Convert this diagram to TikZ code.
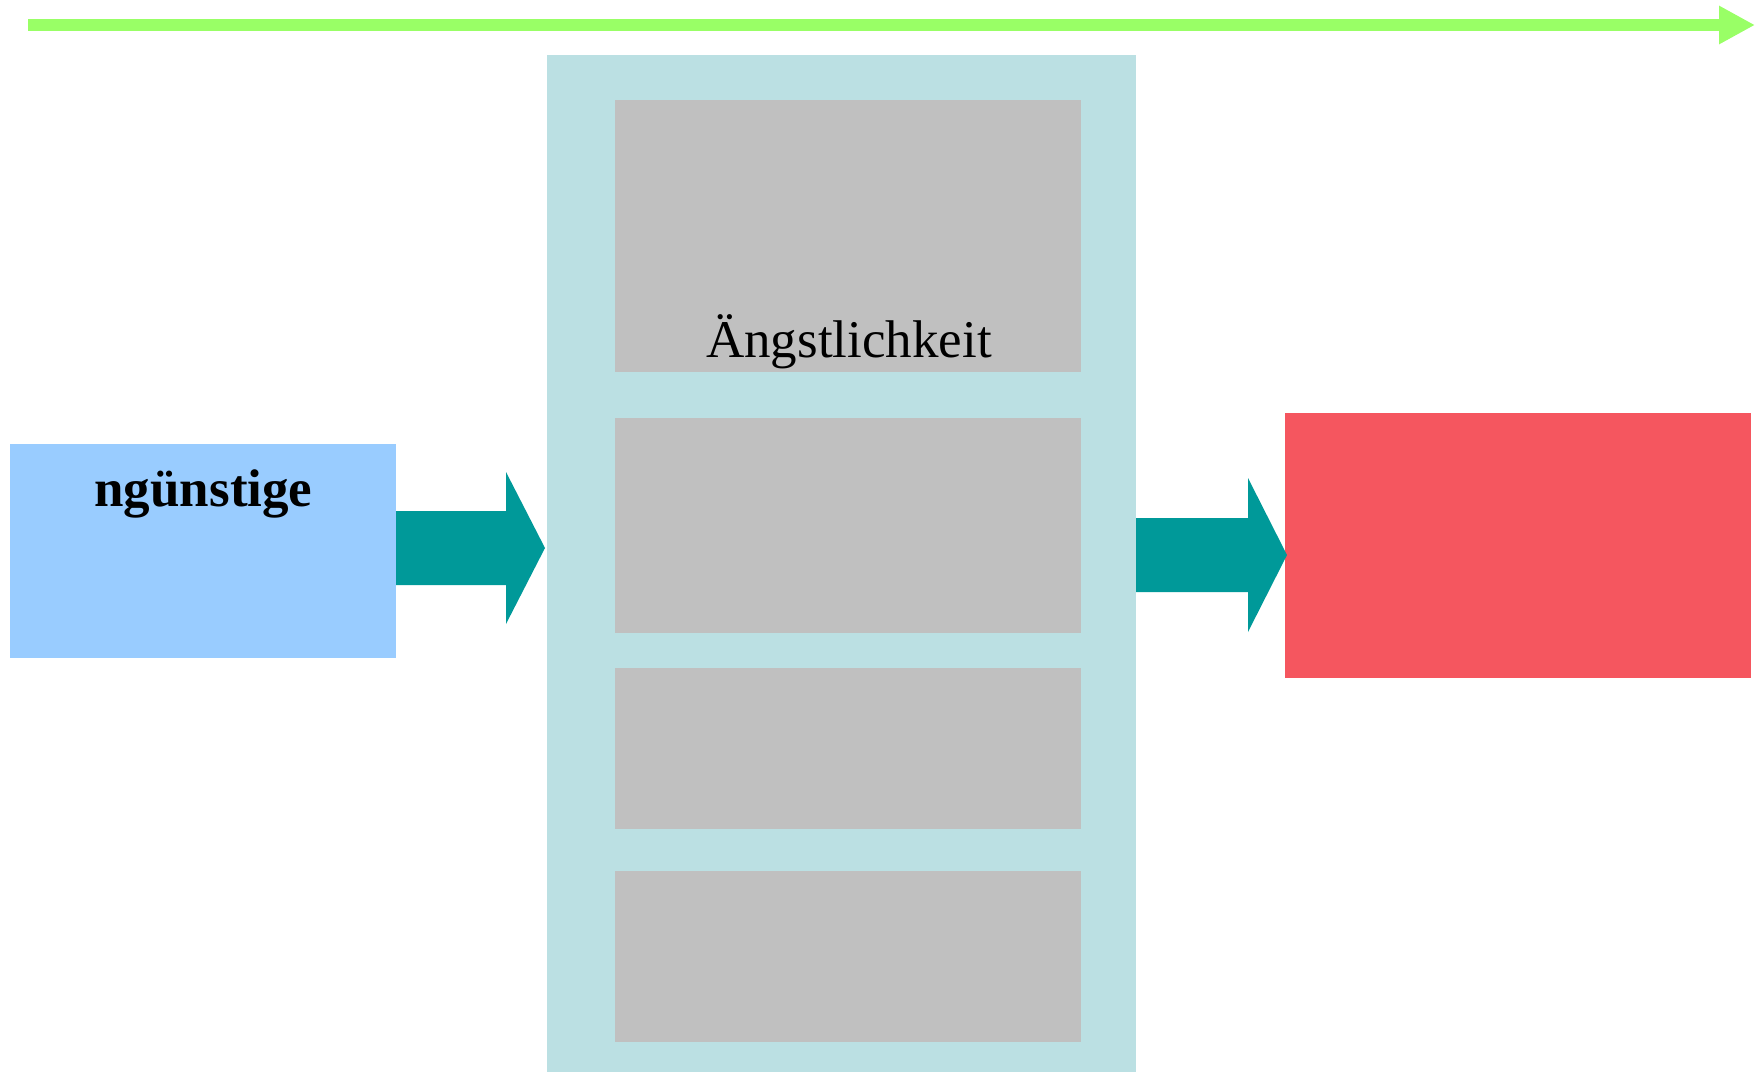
\documentclass[tikz,border=0pt]{standalone}
\usepackage{fontspec}
\setmainfont{Liberation Serif}
\usetikzlibrary{arrows.meta,calc}
\definecolor{zeitgruen}{HTML}{99FF66}
\definecolor{hellblau}{HTML}{99CCFF}
\definecolor{tuerkis}{HTML}{009999}
\definecolor{rahmen}{HTML}{BBE0E3}
\definecolor{grau}{HTML}{C0C0C0}
\definecolor{rot}{HTML}{F5565F}
\begin{document}
\begin{tikzpicture}[x=0.5pt,y=-0.5pt,
    box/.style={inner sep=0pt, outer sep=0pt, anchor=north west, draw=none},
    feld/.style={box, fill=grau, minimum width=233pt},
    pfeil/.style={fill=tuerkis},
    gross/.style={font=\fontsize{26.5}{30}\selectfont, inner sep=0pt, anchor=base}]
    \useasboundingbox (0,0) rectangle (1763,1072);

    % Zeitachse oben
    \coordinate (zeit0) at (28,25);
    \coordinate (zeit1) at (1755,25);
    \draw[zeitgruen, line width=6pt, -{Triangle[length=18pt,width=18pt]}] (zeit0) -- (zeit1);

    \node[box, fill=hellblau, minimum width=193pt, minimum height=107pt] (ausgang) at (10,444) {};
    \node[box, fill=rahmen, minimum width=294.5pt, minimum height=508.5pt] (rahmen) at (547,55) {};
    \node[feld, minimum height=136pt] (feld1) at (615,100) {};
    \node[feld, minimum height=107.5pt] (feld2) at (615,418) {};
    \node[feld, minimum height=80.5pt] (feld3) at (615,668) {};
    \node[feld, minimum height=85.5pt] (feld4) at (615,871) {};
    \node[box, fill=rot, minimum width=233pt, minimum height=132.5pt] (folge) at (1285,413) {};

    \node[gross, font=\fontsize{26.5}{30}\selectfont\bfseries] (ungt) at (203.5,506) {ngünstige};
    \node[gross] (angst) at (849,357) {Ängstlichkeit};

    % Blockpfeile
    \coordinate (h1) at (0,548);
    \coordinate (h2) at (0,555);
    \coordinate (s1) at (ausgang.east |- h1);
    \coordinate (e1) at (rahmen.west |- h1);
    \coordinate (s2) at (rahmen.east |- h2);
    \coordinate (e2) at (folge.west |- h2);
    \fill[pfeil] ($(s1)+(0,-37)$) -- ($(e1)+(-41,-37)$) -- ($(e1)+(-41,-76)$) -- ($(e1)+(-2,0)$)
        -- ($(e1)+(-41,76)$) -- ($(e1)+(-41,37)$) -- ($(s1)+(0,37)$) -- cycle;
    \fill[pfeil] ($(s2)+(0,-37)$) -- ($(e2)+(-37,-37)$) -- ($(e2)+(-37,-77)$) -- ($(e2)+(2,0)$)
        -- ($(e2)+(-37,77)$) -- ($(e2)+(-37,37)$) -- ($(s2)+(0,37)$) -- cycle;
\end{tikzpicture}
\end{document}
